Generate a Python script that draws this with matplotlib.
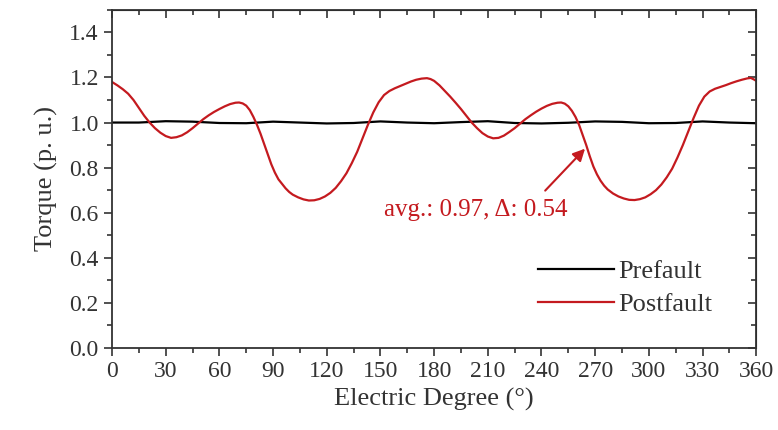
import matplotlib
matplotlib.use("Agg")
import matplotlib.pyplot as plt
from matplotlib.ticker import MultipleLocator

plt.rcParams["font.family"] = ["Liberation Serif", "DejaVu Serif"]

# Postfault torque (p.u.)
post_deg = [0, 3, 6, 9, 12, 15, 18, 21, 24, 27, 30, 33, 36, 39, 42, 45, 48, 51, 54, 57,
            60, 63, 66, 69, 71, 73, 75, 77, 79, 81, 83, 85, 87, 89, 91, 93, 95, 97, 99,
            101, 104, 107, 110, 113, 116, 119, 122, 125, 128, 131, 134, 137, 140, 143,
            146, 149, 152, 155, 158, 161, 164, 167, 170, 173, 176, 178, 180, 183, 186,
            189, 192, 195, 198, 201, 204, 207, 210, 213, 216, 219, 222, 225, 228, 231,
            234, 237, 240, 243, 246, 249, 251, 253, 255, 257, 259, 261, 263, 265, 267,
            269, 271, 273, 275, 277, 280, 283, 286, 289, 292, 295, 298, 301, 304, 307,
            310, 313, 316, 319, 322, 325, 328, 331, 334, 337, 340, 343, 346, 349, 352,
            355, 357, 359, 360]
post_val = [1.18, 1.165, 1.148, 1.128, 1.10, 1.065, 1.03, 1.0, 0.975, 0.955, 0.94, 0.932,
            0.935, 0.943, 0.957, 0.975, 0.995, 1.015, 1.032, 1.047, 1.06, 1.072, 1.082,
            1.088, 1.089, 1.085, 1.075, 1.055, 1.025, 0.99, 0.95, 0.905, 0.86, 0.815,
            0.778, 0.748, 0.728, 0.708, 0.692, 0.68, 0.668, 0.659, 0.654, 0.655, 0.661,
            0.672, 0.688, 0.71, 0.74, 0.775, 0.82, 0.87, 0.93, 0.99, 1.045, 1.09, 1.122,
            1.14, 1.152, 1.162, 1.172, 1.182, 1.19, 1.195, 1.197, 1.193, 1.185, 1.165,
            1.14, 1.115, 1.088, 1.06, 1.03, 1.0, 0.975, 0.953, 0.938, 0.93, 0.932, 0.942,
            0.958, 0.975, 0.995, 1.015, 1.032, 1.048, 1.062, 1.074, 1.083, 1.088, 1.089,
            1.084, 1.072, 1.052, 1.025, 0.99, 0.945, 0.9, 0.85, 0.805, 0.77, 0.742, 0.72,
            0.703, 0.685, 0.672, 0.663, 0.657, 0.656, 0.66, 0.668, 0.682, 0.70, 0.725,
            0.757, 0.795, 0.845, 0.90, 0.96, 1.02, 1.075, 1.115, 1.138, 1.15, 1.158,
            1.166, 1.175, 1.183, 1.19, 1.196, 1.198, 1.19, 1.185]

# Prefault torque (p.u.)
pre_deg = [0, 15, 30, 45, 60, 75, 90, 105, 120, 135, 150, 165, 180, 195, 210, 225,
           240, 255, 270, 285, 300, 315, 330, 345, 360]
pre_val = [1.0, 1.0, 1.006, 1.004, 0.998, 0.997, 1.004, 1.0, 0.996, 0.998, 1.005, 1.0,
           0.997, 1.002, 1.006, 0.998, 0.996, 0.999, 1.005, 1.003, 0.997, 0.998, 1.005,
           1.0, 0.997]

red = "#c41a1f"

fig = plt.figure(figsize=(7.78, 4.30), dpi=100)
ax = fig.add_axes([0.144, 0.191, 0.828, 0.786])

ax.plot(pre_deg, pre_val, color="black", lw=1.6, label="Prefault")
ax.plot(post_deg, post_val, color=red, lw=1.6, label="Postfault")

ax.set_xlim(0, 360)
ax.set_ylim(0, 1.5)
ax.xaxis.set_major_locator(MultipleLocator(30))
ax.xaxis.set_minor_locator(MultipleLocator(15))
ax.yaxis.set_minor_locator(MultipleLocator(0.1))
ax.set_yticks([0, 0.2, 0.4, 0.6, 0.8, 1.0, 1.2, 1.4])
ax.set_yticklabels(["0.0", "0.2", "0.4", "0.6", "0.8", "1.0", "1.2", "1.4"])
ax.tick_params(which="major", direction="out", length=6, width=1.2, labelsize=17,
               colors="#333333", labelcolor="#333333")
ax.tick_params(which="minor", direction="out", length=3.5, width=1.2, colors="#333333")
for s in ax.spines.values():
    s.set_linewidth(1.3)
    s.set_color("#333333")

top = ax.secondary_xaxis("top")
top.xaxis.set_major_locator(MultipleLocator(30))
top.xaxis.set_minor_locator(MultipleLocator(15))
top.tick_params(which="major", direction="in", length=6, width=1.2, labeltop=False, colors="#333333")
top.tick_params(which="minor", direction="in", length=3.5, width=1.2, colors="#333333")
right = ax.secondary_yaxis("right")
right.yaxis.set_major_locator(MultipleLocator(0.2))
right.yaxis.set_minor_locator(MultipleLocator(0.1))
right.tick_params(which="major", direction="in", length=6, width=1.2, labelright=False, colors="#333333")
right.tick_params(which="minor", direction="in", length=3.5, width=1.2, colors="#333333")

ax.set_xlabel("Electric Degree (°)", fontsize=19, color="#333333", labelpad=4)
ax.set_ylabel("Torque (p. u.)", fontsize=19, color="#333333", labelpad=8)

ax.text(203, 0.613, "avg.: 0.97, Δ: 0.54", color=red, fontsize=18, ha="center", va="center")
ax.annotate("", xy=(265.4, 0.893), xytext=(241, 0.689),
            arrowprops=dict(arrowstyle="-|>", color=red, lw=1.5, mutation_scale=18))

ax.legend(loc="lower right", bbox_to_anchor=(0.952, 0.055), frameon=False, fontsize=19,
          handlelength=2.9, handletextpad=0.15, labelspacing=0.35, borderpad=0,
          labelcolor="#333333")

fig.savefig("out.png", dpi=100)
